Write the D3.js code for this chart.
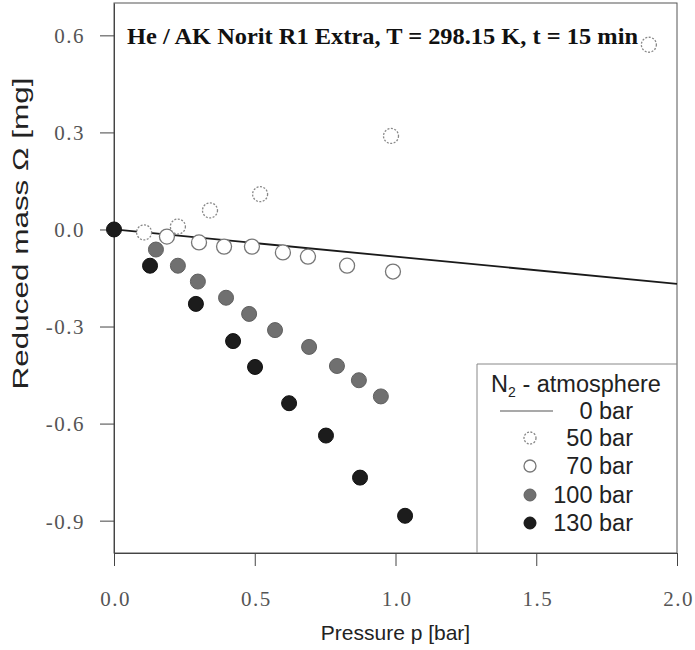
<!DOCTYPE html>
<html><head><meta charset="utf-8">
<script src="https://cdn.jsdelivr.net/npm/d3@7"></script>
<style>body{margin:0;background:#fff}</style>
</head><body><div id="chart"></div>
<script>
// ---- data ----
const titleText = "He / AK Norit R1 Extra, T = 298.15 K, t = 15 min";
const xLabel = "Pressure p [bar]";
const yLabel = "Reduced mass \u03A9 [mg]";
const xTicks = [0.0, 0.5, 1.0, 1.5, 2.0];
const yTicks = [0.6, 0.3, 0.0, -0.3, -0.6, -0.9];
const legendTitle = "N";
const legendNames = ["0 bar", "50 bar", "70 bar", "100 bar", "130 bar"];

const line0bar = [[0.0, 0.0], [2.0, -0.168]];
const p50x = [0.107, 0.227, 0.341, 0.519, 0.984, 1.90];
const p50y = [-0.009, 0.009, 0.059, 0.109, 0.289, 0.571];
const p70x = [0.188, 0.302, 0.391, 0.490, 0.600, 0.689, 0.828, 0.991];
const p70y = [-0.022, -0.040, -0.053, -0.053, -0.071, -0.084, -0.112, -0.130];
const p100x = [0.149, 0.227, 0.298, 0.398, 0.480, 0.572, 0.693, 0.792, 0.870, 0.948];
const p100y = [-0.062, -0.112, -0.161, -0.211, -0.261, -0.311, -0.363, -0.422, -0.466, -0.516];
const p130x = [0.0, 0.128, 0.291, 0.423, 0.501, 0.622, 0.753, 0.874, 1.034];
const p130y = [0.0, -0.112, -0.230, -0.345, -0.425, -0.537, -0.637, -0.767, -0.885];

// ---- layout ----
const W = 695, H = 650;
const m = {left: 114, top: 3, right: 18, bottom: 97};
const iw = W - m.left - m.right, ih = H - m.top - m.bottom;

const svg = d3.select("#chart").append("svg").attr("width", W).attr("height", H);
const g = svg.append("g").attr("transform", `translate(${m.left},${m.top})`);

const x = d3.scaleLinear().domain([0, 2]).range([0, iw]);
const y = d3.scaleLinear().domain([-1.0, 0.7]).range([ih, 0]);

const axisColor = "#444";
const serif = "'Liberation Serif','Times New Roman',serif";
const sans = "'Liberation Sans',Arial,sans-serif";

// frame
g.append("rect").attr("x", 0).attr("y", 0).attr("width", iw).attr("height", ih)
  .attr("fill", "none").attr("stroke", "#555").attr("stroke-width", 1);

// axes
const fmt = d => d3.format(".1f")(d).replace("\u2212", "-");
const xa = g.append("g").attr("transform", `translate(0,${ih})`)
  .call(d3.axisBottom(x).tickValues(xTicks).tickFormat(fmt).tickSize(13).tickSizeOuter(0));
const ya = g.append("g")
  .call(d3.axisLeft(y).tickValues(yTicks).tickFormat(fmt).tickSize(14).tickSizeOuter(0));
[xa, ya].forEach(a => {
  a.select(".domain").attr("stroke", axisColor);
  a.selectAll(".tick line").attr("stroke", axisColor);
  a.selectAll(".tick text").attr("fill", "#555").attr("font-family", serif).attr("font-size", 21)
    .attr("letter-spacing", 1.5);
});
xa.selectAll(".tick text").attr("dy", null).attr("y", 53).attr("dx", 1);
ya.selectAll(".tick text").attr("x", -29).attr("dy", "0.35em");

// axis titles
svg.append("text").attr("x", m.left + x(1.0)).attr("y", 640).attr("text-anchor", "middle")
  .attr("font-family", sans).attr("font-size", 21).attr("fill", "#222").text(xLabel);
svg.append("text").attr("transform", `translate(28,${m.top + y(0.0) + 4}) rotate(-90)`)
  .attr("text-anchor", "middle").attr("font-family", sans).attr("font-size", 22).attr("fill", "#222")
  .attr("textLength", 312).attr("lengthAdjust", "spacingAndGlyphs").text(yLabel);

// title
g.append("text").attr("x", x(0.0) + 13).attr("y", 41).attr("font-family", serif).attr("font-weight", "bold")
  .attr("font-size", 24).attr("fill", "#111").attr("textLength", 511).attr("lengthAdjust", "spacingAndGlyphs")
  .text(titleText);

// 0 bar line
const lineGen = d3.line().x(d => x(d[0])).y(d => y(d[1]));
g.append("path").datum(line0bar).attr("d", lineGen).attr("fill", "none").attr("stroke", "#1a1a1a").attr("stroke-width", 1.8);

const r = 7.5;
const styles = [
  null,
  {fill: "#fff", stroke: "#888", dash: "2,1.5", sw: 1.3},
  {fill: "#fff", stroke: "#777", dash: null, sw: 1.3},
  {fill: "#707070", stroke: "#606060", dash: null, sw: 1},
  {fill: "#1c1c1c", stroke: "#111", dash: null, sw: 1}
];
function drawSeries(xs, ys, st) {
  g.append("g").selectAll("circle").data(xs.map((v, i) => [v, ys[i]])).join("circle")
    .attr("cx", d => x(d[0])).attr("cy", d => y(d[1])).attr("r", r)
    .attr("fill", st.fill).attr("stroke", st.stroke).attr("stroke-width", st.sw)
    .attr("stroke-dasharray", st.dash);
}
drawSeries(p70x, p70y, styles[2]);
drawSeries(p50x, p50y, styles[1]);
drawSeries(p100x, p100y, styles[3]);
drawSeries(p130x, p130y, styles[4]);

// legend
const lg = svg.append("g");
const lx0 = 477, ly0 = 364;
lg.append("path").attr("d", `M${lx0},${m.top + ih} V${ly0} H${m.left + iw}`).attr("fill", "none")
  .attr("stroke", "#888").attr("stroke-width", 1);
const lt = lg.append("text").attr("x", 576).attr("y", 392).attr("text-anchor", "middle")
  .attr("font-family", sans).attr("font-size", 23.5).attr("fill", "#222");
lt.append("tspan").text(legendTitle);
lt.append("tspan").attr("font-size", 14).attr("dy", 5).text("2");
lt.append("tspan").attr("dy", -5).text(" - atmosphere");
const rowY = [419, 446, 474, 503, 531];
legendNames.forEach((name, i) => {
  const cy = rowY[i] - 8;
  if (i === 0) {
    lg.append("line").attr("x1", 500).attr("x2", 553).attr("y1", cy).attr("y2", cy)
      .attr("stroke", "#555").attr("stroke-width", 1.2);
  } else {
    const st = styles[i];
    lg.append("circle").attr("cx", 530).attr("cy", cy).attr("r", 6)
      .attr("fill", st.fill).attr("stroke", st.stroke).attr("stroke-width", st.sw).attr("stroke-dasharray", st.dash);
  }
  lg.append("text").attr("x", 633).attr("y", rowY[i]).attr("text-anchor", "end")
    .attr("font-family", sans).attr("font-size", 23.5).attr("fill", "#222").text(name);
});
</script></body></html>
